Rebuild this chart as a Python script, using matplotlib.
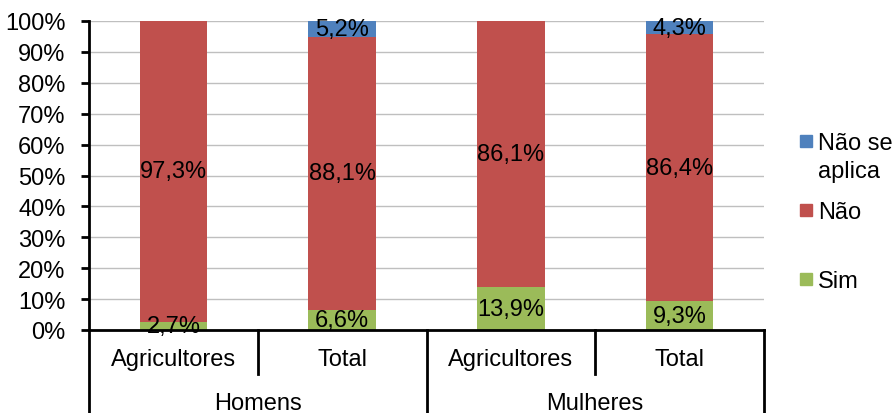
import numpy as np
import matplotlib.pyplot as plt
import matplotlib.transforms as mtransforms
from matplotlib.patches import Rectangle

plt.rcParams['font.family'] = ['Liberation Sans', 'DejaVu Sans']

# dados
categorias = ['Agricultores', 'Total', 'Agricultores', 'Total']
grupos = ['Homens', 'Mulheres']
sim = [2.7, 6.6, 13.9, 9.3]
nao = [97.3, 88.1, 86.1, 86.4]
nao_se_aplica = [0.0, 5.2, 0.0, 4.3]

cor_sim = '#9BBB59'
cor_nao = '#C0504D'
cor_nsa = '#4F81BD'

W, H = 896, 414
fig = plt.figure(figsize=(W / 100, H / 100), dpi=100)
ax = fig.add_axes([89/W, 83/H, 675/W, 309/H])

x = np.arange(len(categorias))
w = 0.4
sim_a = np.array(sim)
nao_a = np.array(nao)
nsa_a = np.array(nao_se_aplica)

ax.bar(x, sim_a, w, color=cor_sim, zorder=2)
ax.bar(x, nao_a, w, bottom=sim_a, color=cor_nao, zorder=2)
ax.bar(x, nsa_a, w, bottom=sim_a + nao_a, color=cor_nsa, zorder=2)

fs = 17
def rotulo(v):
    return ('%.1f%%' % v).replace('.', ',')

for i in range(len(x)):
    ax.text(x[i], sim_a[i] / 2, rotulo(sim_a[i]), ha='center', va='center', fontsize=fs, zorder=3)
    ax.text(x[i], sim_a[i] + nao_a[i] / 2, rotulo(nao_a[i]), ha='center', va='center', fontsize=fs, zorder=3)
    if nsa_a[i] > 0:
        ax.text(x[i], sim_a[i] + nao_a[i] + nsa_a[i] / 2, rotulo(nsa_a[i]), ha='center', va='center', fontsize=fs, zorder=3)

ax.set_xlim(-0.5, len(x) - 0.5)
ax.set_ylim(0, 100)
ax.set_yticks(np.arange(0, 101, 10))
ax.set_yticklabels(['%d%%' % v for v in range(0, 101, 10)], fontsize=fs)
ax.yaxis.grid(True, color='#BFBFBF', linewidth=1, zorder=0)
ax.set_axisbelow(True)
ax.tick_params(axis='y', length=6, width=2, direction='out', pad=11)
ax.set_xticks([])

for s in ['top', 'right']:
    ax.spines[s].set_visible(False)
ax.spines['left'].set_linewidth(2)
ax.spines['bottom'].set_linewidth(2)

# eixo x de dois niveis
trans = mtransforms.blended_transform_factory(ax.transData, ax.transAxes)
y_curta = -44 / 309
y_longa = -84 / 309
ax.plot([-0.5, -0.5], [0, y_longa], color='black', lw=2, transform=trans, clip_on=False)
for xb in [0.5, 2.5]:
    ax.plot([xb, xb], [0, y_curta], color='black', lw=2, transform=trans, clip_on=False)
for xb in [1.5, 3.5]:
    ax.plot([xb, xb], [0, y_longa], color='black', lw=2, transform=trans, clip_on=False)
for i, c in enumerate(categorias):
    ax.text(x[i], -29 / 309, c, ha='center', va='center', fontsize=fs, transform=trans)
for j, g in enumerate(grupos):
    ax.text(2 * j + 0.5, -73 / 309, g, ha='center', va='center', fontsize=fs, transform=trans)

# legenda
itens = [(cor_nsa, ['Não se', 'aplica'], 142), (cor_nao, ['Não'], 211), (cor_sim, ['Sim'], 280)]
for cor, linhas, yc in itens:
    fig.add_artist(Rectangle((800/W, 1 - (yc + 6)/H), 12/W, 12/H, color=cor, transform=fig.transFigure))
    for k, t in enumerate(linhas):
        fig.text(818/W, 1 - (yc + 2 + 28*k)/H, t, ha='left', va='center', fontsize=fs)

fig.savefig('out.png', dpi=100)
